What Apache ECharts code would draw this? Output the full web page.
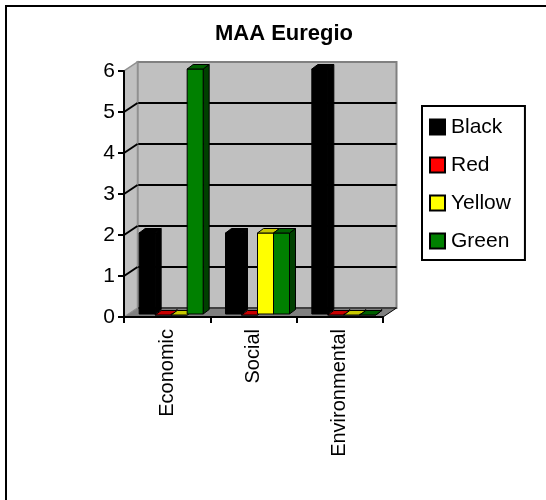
<!DOCTYPE html>
<html>
<head>
<meta charset="utf-8">
<script src="https://cdn.jsdelivr.net/npm/echarts@6/dist/echarts.min.js"></script>
<style>
  html, body { margin: 0; padding: 0; background: #fff; }
  #chart { width: 546px; height: 500px; }
</style>
</head>
<body>
<div id="chart"></div>
<script>
// datos del gráfico
var categories = ['Economic', 'Social', 'Environmental'];
var seriesNames = ['Black', 'Red', 'Yellow', 'Green'];
var blackValues = [2, 2, 6];
var redValues = [0, 0, 0];
var yellowValues = [0, 2, 0];
var greenValues = [6, 2, 0];
var yTicks = [0, 1, 2, 3, 4, 5, 6];

// colores: frente, arriba, lateral
var frontColors = ['#000000', '#ff0000', '#ffff00', '#008000'];
var topColors = ['#000000', '#c80000', '#c8c800', '#006000'];
var sideColors = ['#000000', '#800000', '#a0a000', '#004000'];

var FONT = '"Liberation Sans", Arial, sans-serif';
var DX = 13.5, DY = -9;          // profundidad de las paredes
var BAR_W = 16, BAR_DX = 6, BAR_DY = -4.5;

var chart = echarts.init(document.getElementById('chart'));

// paredes (lateral izquierda y piso)
function renderWalls(params, api) {
    var cs = params.coordSys;
    var x = cs.x, y = cs.y, w = cs.width, h = cs.height;
    var children = [];
    children.push({
        type: 'polygon',
        shape: { points: [[x, y + h], [x + w, y + h], [x + w + DX, y + h + DY], [x + DX, y + h + DY]] },
        style: { fill: '#808080', stroke: '#000', lineWidth: 1 }
    });
    children.push({
        type: 'polygon',
        shape: { points: [[x, y + h], [x, y], [x + DX, y + DY], [x + DX, y + h + DY]] },
        style: { fill: '#c0c0c0', stroke: '#909090', lineWidth: 1.5 }
    });
    yTicks.forEach(function (t) {
        if (t === yTicks[0] || t === yTicks[yTicks.length - 1]) return;
        var p = api.coord([0, t]);
        children.push({
            type: 'line',
            shape: { x1: x, y1: p[1], x2: x + DX, y2: p[1] + DY },
            style: { stroke: '#000', lineWidth: 2 }
        });
    });
    return { type: 'group', children: children };
}

// barras con efecto 3D
function makeRenderBar(idx) {
    return function (params, api) {
        var cat = api.value(0);
        var val = api.value(1);
        var base = api.coord([cat, 0]);
        var top = api.coord([cat, val]);
        var x0 = base[0] - 28 + BAR_W * idx;
        var yb = base[1] - 3;
        var yt = top[1] - 2;
        var st = { stroke: '#000', lineWidth: 1 };
        return {
            type: 'group',
            children: [
                {
                    type: 'polygon',
                    shape: { points: [[x0 + BAR_W, yt], [x0 + BAR_W + BAR_DX, yt + BAR_DY], [x0 + BAR_W + BAR_DX, yb + BAR_DY], [x0 + BAR_W, yb]] },
                    style: Object.assign({ fill: sideColors[idx] }, st)
                },
                {
                    type: 'rect',
                    shape: { x: x0, y: yt, width: BAR_W, height: yb - yt },
                    style: Object.assign({ fill: frontColors[idx] }, st)
                },
                {
                    type: 'polygon',
                    shape: { points: [[x0, yt], [x0 + BAR_W, yt], [x0 + BAR_W + BAR_DX, yt + BAR_DY], [x0 + BAR_DX, yt + BAR_DY]] },
                    style: Object.assign({ fill: topColors[idx] }, st)
                }
            ]
        };
    };
}

var allValues = [blackValues, redValues, yellowValues, greenValues];

var barSeries = seriesNames.map(function (name, i) {
    return {
        name: name,
        type: 'custom',
        xAxisIndex: 0,
        yAxisIndex: 0,
        clip: false,
        z: 3 + i,
        itemStyle: { color: frontColors[i], borderColor: '#000', borderWidth: 1 },
        renderItem: makeRenderBar(i),
        encode: { x: 0, y: 1 },
        data: allValues[i].map(function (v, k) { return [k, v]; })
    };
});

var option = {
    animation: false,
    backgroundColor: '#fff',
    textStyle: { fontFamily: FONT },
    title: {
        text: 'MAA Euregio',
        left: 279,
        top: 18,
        textAlign: 'center',
        textStyle: { fontFamily: FONT, fontSize: 22, fontWeight: 'bold', color: '#000' }
    },
    legend: {
        orient: 'vertical',
        left: 422,
        top: 106,
        padding: [10, 14, 8, 7],
        itemGap: 16,
        itemWidth: 15,
        itemHeight: 15,
        borderColor: '#000',
        borderWidth: 2,
        icon: 'rect',
        data: seriesNames,
        textStyle: { fontFamily: FONT, fontSize: 21, color: '#000', lineHeight: 22, padding: [0, 0, 0, 1] }
    },
    grid: [
        { // frente
            left: 124, top: 71, right: 163, bottom: 183
        },
        { // pared del fondo
            left: 124 + DX, top: 71 + DY, right: 163 - DX, bottom: 183 - DY,
            show: true, backgroundColor: '#c0c0c0', borderColor: '#808080', borderWidth: 2
        }
    ],
    xAxis: [
        {
            type: 'category',
            gridIndex: 0,
            data: categories,
            z: 10,
            axisLine: { lineStyle: { color: '#000', width: 2 } },
            axisTick: { show: true, length: 6, lineStyle: { color: '#000', width: 2 } },
            axisLabel: { rotate: 90, margin: 12, fontSize: 20, color: '#000', fontFamily: FONT },
            splitLine: { show: false }
        },
        {
            type: 'category',
            gridIndex: 1,
            data: categories,
            show: false
        }
    ],
    yAxis: [
        {
            type: 'value',
            gridIndex: 0,
            min: 0, max: 6, interval: 1,
            z: 10,
            axisLine: { show: true, lineStyle: { color: '#000', width: 2 } },
            axisTick: { show: true, length: 6, lineStyle: { color: '#000', width: 2 } },
            axisLabel: { margin: 9, fontSize: 21, color: '#000', fontFamily: FONT },
            splitLine: { show: false }
        },
        {
            type: 'value',
            gridIndex: 1,
            min: 0, max: 6, interval: 1,
            axisLine: { show: false },
            axisTick: { show: false },
            axisLabel: { show: false },
            splitLine: { show: true, showMinLine: false, showMaxLine: false, lineStyle: { color: '#000', width: 2 } }
        }
    ],
    graphic: [
        {
            type: 'rect',
            shape: { x: 6, y: 6, width: 700, height: 700 },
            style: { fill: 'none', stroke: '#000', lineWidth: 2 },
            z: 100
        }
    ],
    series: [
        {
            type: 'custom',
            name: 'walls',
            xAxisIndex: 0,
            yAxisIndex: 0,
            clip: false,
            z: 1,
            silent: true,
            renderItem: renderWalls,
            data: [[0, 0]]
        }
    ].concat(barSeries)
};

chart.setOption(option);
</script>
</body>
</html>
